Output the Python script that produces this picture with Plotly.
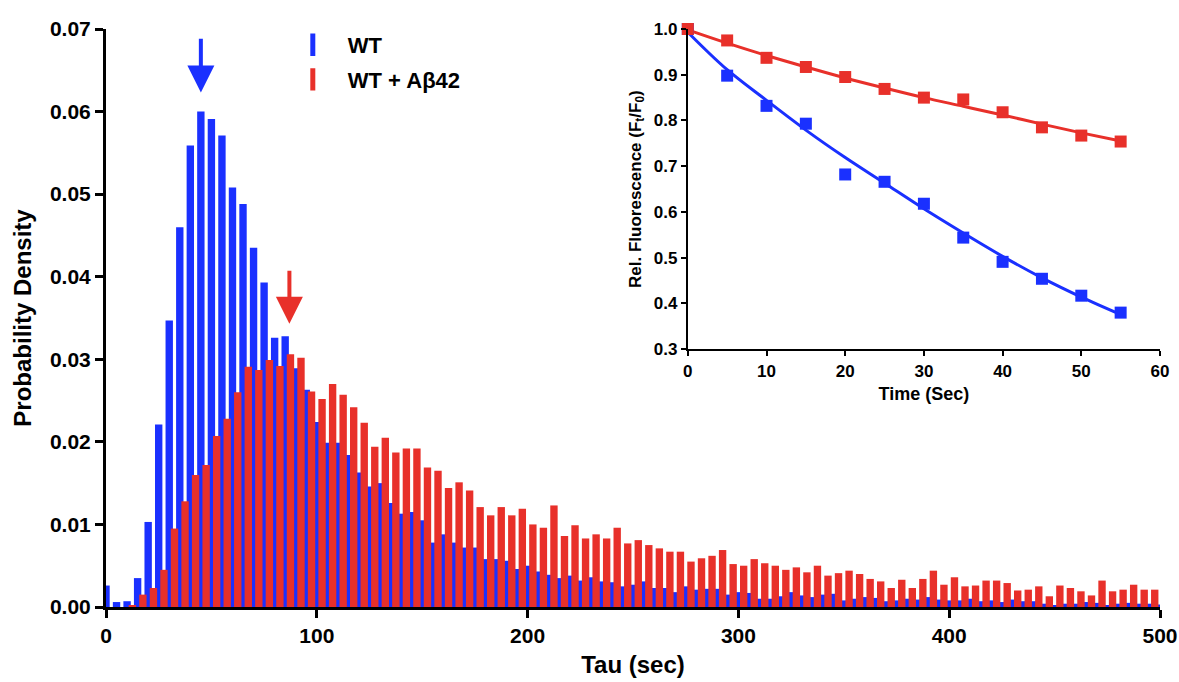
import plotly.graph_objects as go

# histogram, bin width 5 sec
wt_density = [
    0.0026, 0.0006, 0.0007, 0.0035, 0.0103, 0.0221, 0.0347, 0.0460, 0.0559, 0.0600,
    0.0591, 0.0571, 0.0508, 0.0488, 0.0435, 0.0393, 0.0326, 0.0328, 0.0289, 0.0263,
    0.0224, 0.0199, 0.0199, 0.0184, 0.0163, 0.0146, 0.0150, 0.0126, 0.0113, 0.0115,
    0.0105, 0.0078, 0.0088, 0.0078, 0.0072, 0.0072, 0.0058, 0.0058, 0.0056, 0.0046,
    0.0050, 0.0043, 0.0039, 0.0035, 0.0038, 0.0032, 0.0036, 0.0031, 0.0030, 0.0025,
    0.0027, 0.0031, 0.0023, 0.0023, 0.0018, 0.0025, 0.0021, 0.0022, 0.0022, 0.0015,
    0.0018, 0.0017, 0.0010, 0.0010, 0.0013, 0.0018, 0.0014, 0.0012, 0.0015, 0.0016,
    0.0008, 0.0010, 0.0012, 0.0011, 0.0007, 0.0008, 0.0010, 0.0009, 0.0012, 0.0009,
    0.0008, 0.0008, 0.0010, 0.0007, 0.0008, 0.0006, 0.0009, 0.0007, 0.0007, 0.0004,
    0.0002, 0.0004, 0.0004, 0.0006, 0.0005, 0.0002, 0.0004, 0.0005, 0.0004, 0.0004,
    0.0003,
]
ab42_density = [
    0.0000, 0.0000, 0.0002, 0.0015, 0.0023, 0.0045, 0.0095, 0.0128, 0.0160, 0.0172,
    0.0207, 0.0228, 0.0260, 0.0291, 0.0287, 0.0299, 0.0292, 0.0306, 0.0302, 0.0261,
    0.0252, 0.0270, 0.0257, 0.0242, 0.0223, 0.0194, 0.0205, 0.0187, 0.0192, 0.0192,
    0.0169, 0.0165, 0.0144, 0.0151, 0.0141, 0.0121, 0.0111, 0.0121, 0.0111, 0.0119,
    0.0100, 0.0096, 0.0123, 0.0086, 0.0099, 0.0083, 0.0088, 0.0083, 0.0096, 0.0077,
    0.0081, 0.0075, 0.0071, 0.0067, 0.0067, 0.0055, 0.0059, 0.0062, 0.0069, 0.0052,
    0.0050, 0.0058, 0.0053, 0.0050, 0.0045, 0.0048, 0.0042, 0.0050, 0.0038, 0.0041,
    0.0044, 0.0040, 0.0034, 0.0031, 0.0023, 0.0033, 0.0023, 0.0034, 0.0044, 0.0027,
    0.0036, 0.0025, 0.0026, 0.0032, 0.0032, 0.0029, 0.0020, 0.0021, 0.0025, 0.0013,
    0.0026, 0.0023, 0.0019, 0.0014, 0.0032, 0.0019, 0.0021, 0.0027, 0.0021, 0.0021,
]
bin_width = 5
tau_wt = [bin_width * i for i in range(len(wt_density))]
tau_ab42 = [bin_width * i + 2.5 for i in range(len(ab42_density))]

# arrows marking the mean tau: (tau, tip, tail)
wt_arrow = (45, 0.0623, 0.0690)
ab42_arrow = (87, 0.0343, 0.0409)

# inset: FRAP recovery
time_s = [0, 5, 10, 15, 20, 25, 30, 35, 40, 45, 50, 55]
wt_fluor = [1.0, 0.898, 0.832, 0.793, 0.682, 0.666, 0.618, 0.544, 0.491, 0.454, 0.417, 0.380]
ab42_fluor = [1.0, 0.975, 0.937, 0.917, 0.895, 0.869, 0.850, 0.846, 0.818, 0.785, 0.767, 0.754]
wt_fit = [0.993, 0.911, 0.844, 0.779, 0.719, 0.663, 0.607, 0.554, 0.503, 0.456, 0.414, 0.376]
ab42_fit = [0.998, 0.969, 0.942, 0.917, 0.893, 0.871, 0.850, 0.831, 0.812, 0.792, 0.773, 0.755]

BLUE = "#1a30ff"
RED = "#e8302a"
FONT = "Liberation Sans"

fig = go.Figure()
fig.add_trace(go.Bar(x=tau_wt, y=wt_density, width=3.5, marker_color=BLUE,
                     marker_line_width=0, showlegend=False))
fig.add_trace(go.Bar(x=tau_ab42, y=ab42_density, width=3.5, marker_color=RED,
                     marker_line_width=0, showlegend=False))

# legend entries (thin vertical bars like the original)
for name, col, grp in [("WT", BLUE, "a"), ("WT + Aβ42", RED, "b")]:
    fig.add_trace(go.Scatter(x=[None], y=[None], mode="markers", name=name,
                             legendgroup=grp,
                             marker=dict(symbol="line-ns", size=16, color=col,
                                         line=dict(color=col, width=5))))

# inset
fig.add_trace(go.Scatter(x=time_s, y=wt_fit, xaxis="x2", yaxis="y2", mode="lines",
                         line=dict(color=BLUE, width=3, shape="spline"),
                         showlegend=False, cliponaxis=False))
fig.add_trace(go.Scatter(x=time_s, y=ab42_fit, xaxis="x2", yaxis="y2", mode="lines",
                         line=dict(color=RED, width=3, shape="spline"),
                         showlegend=False, cliponaxis=False))
fig.add_trace(go.Scatter(x=time_s, y=wt_fluor, xaxis="x2", yaxis="y2", mode="markers",
                         marker=dict(symbol="square", size=12, color=BLUE),
                         showlegend=False, cliponaxis=False))
fig.add_trace(go.Scatter(x=time_s, y=ab42_fluor, xaxis="x2", yaxis="y2", mode="markers",
                         marker=dict(symbol="square", size=12, color=RED),
                         showlegend=False, cliponaxis=False))

for (x, tip, tail), col in [(wt_arrow, BLUE), (ab42_arrow, RED)]:
    fig.add_annotation(x=x, y=tip, ax=x, ay=tail, xref="x", yref="y", axref="x", ayref="y",
                       text="", showarrow=True, arrowhead=2, arrowsize=1.35,
                       arrowwidth=4, arrowcolor=col)

axis_common = dict(showgrid=False, zeroline=False, showline=True, linecolor="black",
                   ticks="outside", tickcolor="black", automargin=False)

fig.update_layout(
    width=1179, height=682,
    margin=dict(l=106, r=19, t=29, b=75),
    plot_bgcolor="white", paper_bgcolor="white",
    barmode="overlay",
    font=dict(family=FONT, color="black", weight="bold"),
    xaxis=dict(range=[0, 500], dtick=100, linewidth=3, tickwidth=3, ticklen=8,
               tickfont=dict(size=21), title=dict(text="Tau (sec)", font=dict(size=24), standoff=10),
               **axis_common),
    yaxis=dict(range=[0, 0.07], dtick=0.01, tickformat=".2f", linewidth=3, tickwidth=3,
               ticklen=8, tickfont=dict(size=21),
               title=dict(text="Probability Density", font=dict(size=24), standoff=12),
               **axis_common),
    xaxis2=dict(domain=[0.552, 1.0], anchor="y2", range=[0, 60], dtick=10,
                linewidth=2, tickwidth=2, ticklen=5, tickfont=dict(size=17),
                title=dict(text="Time (Sec)", font=dict(size=18), standoff=8),
                **axis_common),
    yaxis2=dict(domain=[0.446, 1.0], anchor="x2", range=[0.3, 1.0], dtick=0.1,
                tickformat=".1f", linewidth=2, tickwidth=2, ticklen=5, tickfont=dict(size=17),
                title=dict(text="Rel. Fluorescence (F<sub>t</sub>/F<sub>0</sub>)",
                           font=dict(size=17), standoff=8),
                **axis_common),
    legend=dict(x=0.163, y=1.0087, xanchor="left", yanchor="top", font=dict(size=22),
                itemwidth=60, tracegroupgap=3, bgcolor="rgba(0,0,0,0)"),
)

# drop the default page margin so the figure sits at the window's corner
fig.write_html("out.html", config={"displayModeBar": False},
               post_script="document.body.style.margin='0';")
